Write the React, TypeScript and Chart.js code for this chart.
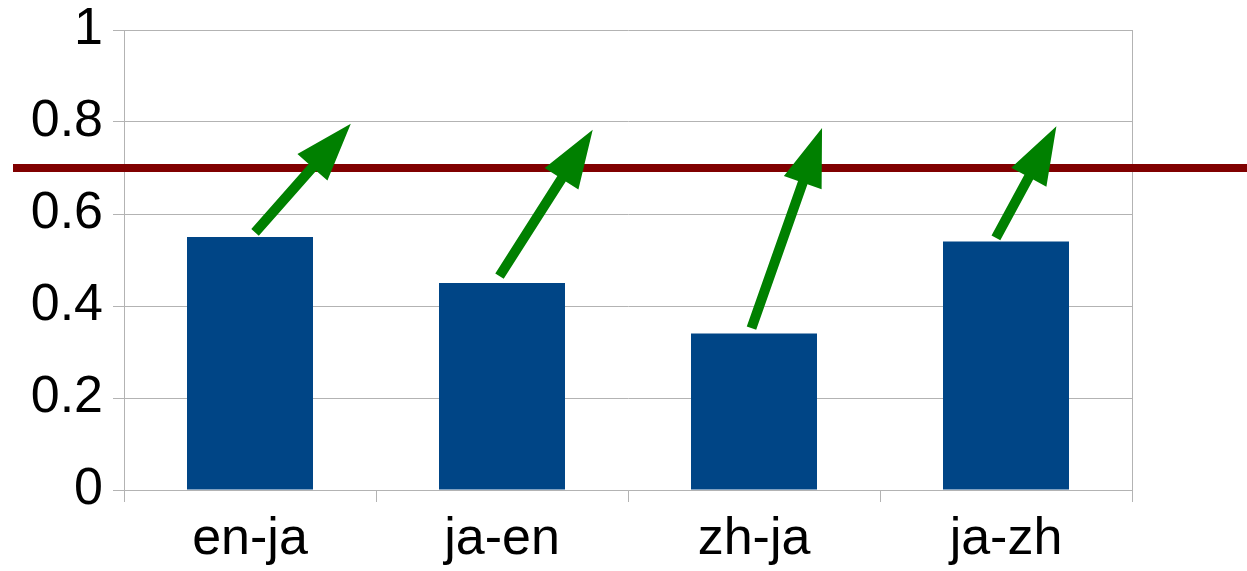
import React, { useEffect, useRef } from "react";
import { Chart, registerables } from "chart.js";

Chart.register(...registerables);

const categories = ["en-ja", "ja-en", "zh-ja", "ja-zh"];
const scores = [0.55, 0.45, 0.34, 0.54];
const yTicks = [0, 0.2, 0.4, 0.6, 0.8, 1];
const targetLevel = 0.7;
// arrows: start/end values and horizontal shift in category widths
const arrowFromValue = [0.56, 0.465, 0.352, 0.548];
const arrowToValue = [0.796, 0.783, 0.787, 0.791];
const arrowFromShift = [0.02, -0.01, -0.01, -0.04];
const arrowToShift = [0.4, 0.36, 0.27, 0.2];

const GRID = "#b3b3b3";
const BAR = "#004586";
const RED = "#800000";
const GREEN = "#008000";
const FONT = "'Liberation Sans', Arial, sans-serif";

const overlayPlugin = {
  id: "overlay",
  afterDatasetsDraw(chart: any) {
    const ctx = chart.ctx;
    const x = chart.scales.x;
    const y = chart.scales.y;
    const area = chart.chartArea;
    ctx.save();
    // right border
    ctx.strokeStyle = GRID;
    ctx.lineWidth = 1;
    ctx.beginPath();
    ctx.moveTo(Math.round(area.right) + 0.5, area.top);
    ctx.lineTo(Math.round(area.right) + 0.5, area.bottom + 12);
    ctx.stroke();
    // target line
    const ty = y.getPixelForValue(targetLevel);
    ctx.strokeStyle = RED;
    ctx.lineWidth = 8;
    ctx.beginPath();
    ctx.moveTo(13, ty);
    ctx.lineTo(chart.width, ty);
    ctx.stroke();
    // arrows
    const cw = x.width / categories.length;
    ctx.fillStyle = GREEN;
    for (let i = 0; i < categories.length; i++) {
      const cx = x.getPixelForValue(i);
      const tx = cx + arrowFromShift[i] * cw;
      const tyy = y.getPixelForValue(arrowFromValue[i]);
      const px = cx + arrowToShift[i] * cw;
      const py = y.getPixelForValue(arrowToValue[i]);
      const dx = px - tx;
      const dy = py - tyy;
      const len = Math.hypot(dx, dy);
      const ux = dx / len;
      const uy = dy / len;
      const nx = -uy;
      const ny = ux;
      const w = 5;
      const L = 58;
      const H = 20;
      const bx = px - ux * L;
      const by = py - uy * L;
      ctx.beginPath();
      ctx.moveTo(tx + nx * w, tyy + ny * w);
      ctx.lineTo(bx + nx * w, by + ny * w);
      ctx.lineTo(bx + nx * H, by + ny * H);
      ctx.lineTo(px, py);
      ctx.lineTo(bx - nx * H, by - ny * H);
      ctx.lineTo(bx - nx * w, by - ny * w);
      ctx.lineTo(tx - nx * w, tyy - ny * w);
      ctx.closePath();
      ctx.fill();
    }
    ctx.restore();
  },
};

export default function App() {
  const ref = useRef<HTMLCanvasElement>(null);
  useEffect(() => {
    document.body.style.margin = "0";
    const chart = new Chart(ref.current as HTMLCanvasElement, {
      type: "bar",
      data: {
        labels: categories,
        datasets: [
          {
            data: scores,
            backgroundColor: BAR,
            borderWidth: 0,
            barPercentage: 0.5,
            categoryPercentage: 1,
          },
        ],
      },
      options: {
        animation: false,
        responsive: false,
        maintainAspectRatio: false,
        layout: { padding: { top: 30, right: 115, left: 0, bottom: 0 } },
        plugins: { legend: { display: false }, tooltip: { enabled: false } },
        scales: {
          x: {
            offset: true,
            grid: {
              offset: true,
              drawOnChartArea: false,
              drawTicks: true,
              tickLength: 12,
              color: GRID,
            },
            border: { color: GRID },
            ticks: {
              color: "#000",
              font: { family: FONT, size: 52 },
              padding: 6,
            },
            afterFit(scale: any) {
              scale.height = 81;
              scale.paddingLeft = 0;
              scale.paddingRight = 0;
            },
          },
          y: {
            min: 0,
            max: 1,
            afterBuildTicks(scale: any) {
              scale.ticks = yTicks.map((v) => ({ value: v }));
            },
            grid: { color: GRID, tickLength: 11 },
            border: { color: GRID },
            ticks: {
              color: "#000",
              font: { family: FONT, size: 52 },
              padding: 10,
              callback: (v: any) => String(Number(v)),
            },
            afterFit(scale: any) {
              scale.width = 124;
              scale.paddingTop = 0;
              scale.paddingBottom = 0;
            },
          },
        },
      },
      plugins: [overlayPlugin],
    } as any);
    return () => chart.destroy();
  }, []);
  return (
    <div style={{ width: 1247, height: 571 }}>
      <canvas ref={ref} width={1247} height={571} style={{ display: "block" }} />
    </div>
  );
}
